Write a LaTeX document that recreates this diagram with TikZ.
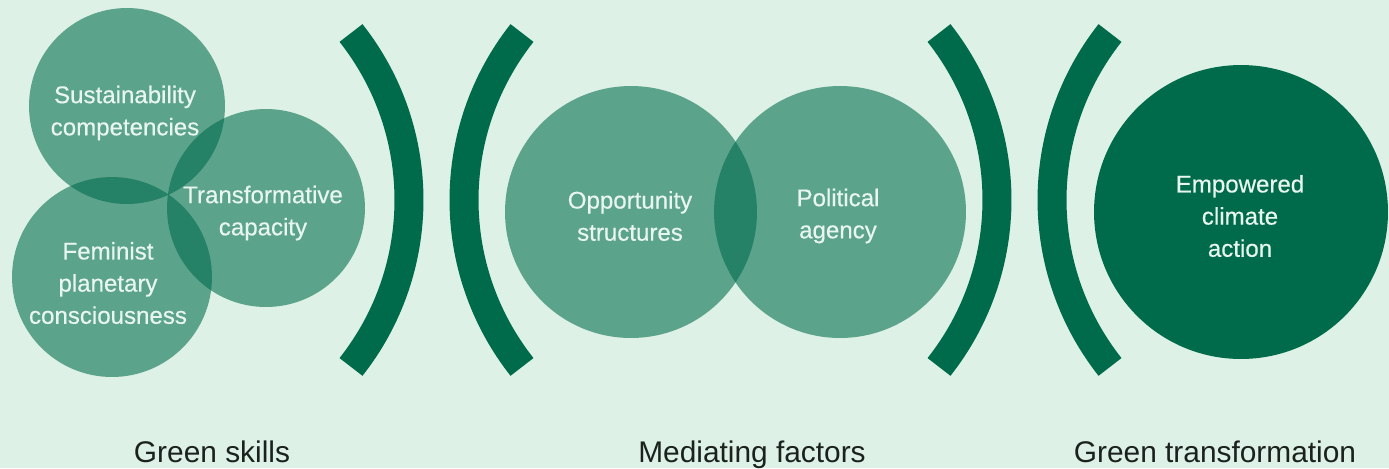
\documentclass[tikz,border=0pt]{standalone}
\usepackage{fontspec}
\setmainfont{Liberation Sans}
\newfontfamily\gsMedium[FakeBold=0.4]{Liberation Sans}
\usetikzlibrary{positioning}
\definecolor{gsDark}{HTML}{006B4B}
\definecolor{gsMint}{HTML}{DDF1E6}
\definecolor{gsPale}{HTML}{E9F6EF}
\definecolor{gsInk}{HTML}{1B221E}
\tikzset{GSCircle/.style={circle,fill=gsDark,fill opacity=.58,inner sep=0pt}}
\tikzset{GSCircleSolid/.style={circle,fill=gsDark,inner sep=0pt}}
\tikzset{GSLabel/.style={text=gsPale,align=center,font=\gsMedium\fontsize{13.7}{18.3}\selectfont}}
\tikzset{GSCaption/.style={text=gsInk,anchor=base,font=\fontsize{17}{20}\selectfont}}
\tikzset{GSBracket/.style={draw=gsDark,line width=.58cm}}

\begin{document}
\begin{tikzpicture}[x=.02cm,y=-.02cm]
\path[use as bounding box,fill=gsMint] (0,0) rectangle (1389,468);
% green skills
\node (sust) at (127,106) [GSCircle,minimum size=3.92cm] {};
\node (trans) at (266,208) [GSCircle,minimum size=3.96cm] {};
\node (fem) at (112,277) [GSCircle,minimum size=4cm] {};
\node (sustT) at (125,113) [GSLabel] {Sustainability\\competencies};
\node (transT) at (263,213) [GSLabel] {Transformative\\capacity};
\node (femT) at (108,283) [GSLabel] {Feminist\\planetary\\consciousness};
% mediating factors
\node (opp) at (631,212) [GSCircle,minimum size=5.04cm] {};
\node (pol) at (840,212) [GSCircle,minimum size=5.04cm] {};
\node (oppT) at (630,216) [GSLabel] {Opportunity\\structures};
\node (polT) at (838,216) [GSLabel] {Political\\agency};
% green transformation
\node (act) at (1241,212) [GSCircleSolid,minimum size=5.88cm] {};
\node (actT) at (1240,216) [GSLabel] {Empowered\\climate\\action};
% brackets
\draw [GSBracket] (351,33) arc[start angle=-38.3, end angle=38.3, radius=269.4];
\draw [GSBracket] (522,33) arc[start angle=218.3, end angle=141.7, radius=269.4];
\draw [GSBracket] (939,33) arc[start angle=-38.3, end angle=38.3, radius=269.4];
\draw [GSBracket] (1110,33) arc[start angle=218.3, end angle=141.7, radius=269.4];
% captions
\node (capSkills) at (212,462) [GSCaption] {Green skills};
\node (capMed) at (752,462) [GSCaption] {Mediating factors};
\node (capTrans) at (1215,462) [GSCaption] {Green transformation};
\end{tikzpicture}
\end{document}
